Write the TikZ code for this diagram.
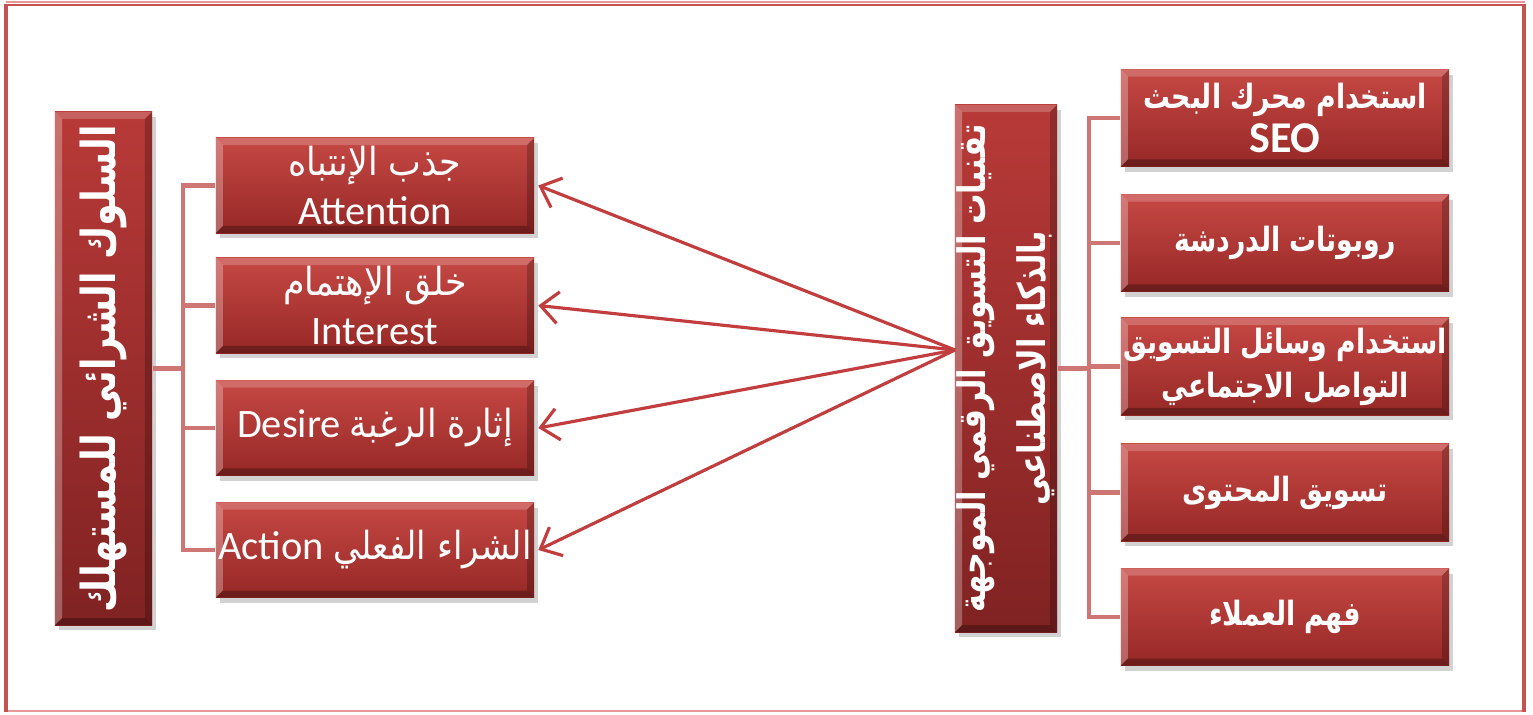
\documentclass[tikz,border=0pt]{standalone}
\usepackage{fontspec}
\usepackage{graphicx}
\setmainfont{Carlito}
\newfontfamily\arabicfont[Script=Arabic]{DejaVu Sans}
\newfontfamily\latinfont{Carlito}
\TeXXeTstate=1
\usetikzlibrary{arrows.meta,shadows}
\definecolor{boxtop}{RGB}{198,72,68}
\definecolor{boxbot}{RGB}{150,40,38}
\definecolor{vtop}{RGB}{184,58,56}
\definecolor{vbot}{RGB}{128,34,34}
\definecolor{treecol}{RGB}{205,118,115}
\definecolor{arrcol}{RGB}{194,62,62}
\definecolor{framedark}{RGB}{196,82,80}
\definecolor{framelight}{RGB}{230,150,148}
\newcommand\arline[2][0.8]{\scalebox{#1}[1]{\beginR #2\endR}}
\newcommand\mybevel{%
  \fill[white,opacity=0.20] (path picture bounding box.north west) -- (path picture bounding box.north east)
    -- ([shift={(-2pt,-2pt)}]path picture bounding box.north east) -- ([shift={(2pt,-2pt)}]path picture bounding box.north west) -- cycle;
  \fill[white,opacity=0.28] (path picture bounding box.north west) -- ([shift={(2pt,-2pt)}]path picture bounding box.north west)
    -- ([shift={(2pt,2pt)}]path picture bounding box.south west) -- (path picture bounding box.south west) -- cycle;
  \fill[black,opacity=0.22] (path picture bounding box.north east) -- ([shift={(-2pt,-2pt)}]path picture bounding box.north east)
    -- ([shift={(-2pt,2pt)}]path picture bounding box.south east) -- (path picture bounding box.south east) -- cycle;
  \fill[black,opacity=0.28] (path picture bounding box.south west) -- ([shift={(2pt,2pt)}]path picture bounding box.south west)
    -- ([shift={(-2pt,2pt)}]path picture bounding box.south east) -- (path picture bounding box.south east) -- cycle;
}
\tikzset{
  redbox/.style={shade, top color=boxtop, bottom color=boxbot, text=white, inner sep=0pt, align=center,
    drop shadow={shadow xshift=1.2pt, shadow yshift=-1.5pt, opacity=0.35}, path picture={\mybevel}},
  abox/.style={redbox, minimum width=3.18cm, minimum height=0.95cm, font=\latinfont\fontsize{11.5}{14}\selectfont},
  bbox/.style={redbox, minimum width=3.28cm, minimum height=0.97cm, font=\arabicfont\bfseries\fontsize{9.5}{12.5}\selectfont},
  vbox/.style={redbox, top color=vtop, bottom color=vbot},
  vtext/.style={rotate=90, text=white, align=center, inner sep=0pt},
  tree/.style={treecol, line width=1.15pt},
  arr/.style={arrcol, line width=0.9pt, -{Straight Barb[length=5pt,width=9pt,line width=0.9pt]}},
}
\begin{document}
\begin{tikzpicture}[x=0.01cm,y=-0.01cm]
\useasboundingbox (0,0) rectangle (1533,715);
\fill[white] (0,0) rectangle (1533,715);
% frame
\draw[framelight, line width=0.5pt] (6,2) -- (1525,2);
\draw[framedark, line width=0.7pt] (6,5) -- (1525,5);
\draw[framelight, line width=0.6pt] (6,711) -- (1525,711);
\draw[framedark, line width=1.1pt] (6,4) -- (6,712);
\draw[framedark, line width=1.1pt] (1524,4) -- (1524,712);

% left vertical box
\node[vbox, minimum width=0.97cm, minimum height=5.13cm] (L) at (103.5,368.5) {};
\node[vtext, font=\arabicfont\bfseries\fontsize{13.3}{16}\selectfont] (Lt) at (L.center) {\arline[0.78]{السلوك الشرائي للمستهلك}};

% left boxes
\node[abox] (a1) at (375,185.5) {{\arabicfont\fontsize{11}{14}\selectfont\arline[0.9]{جذب الإنتباه}}\\Attention};
\node[abox] (a2) at (375,305.5) {{\arabicfont\fontsize{11}{14}\selectfont\arline[0.9]{خلق الإهتمام}}\\Interest};
\node[abox] (a3) at (375,428) {Desire {\arabicfont\fontsize{11}{14}\selectfont\arline[0.9]{إثارة الرغبة}}};
\node[abox] (a4) at (375,550) {Action {\arabicfont\fontsize{11}{14}\selectfont\arline[0.88]{الشراء الفعلي}}};

% right vertical box
\node[vbox, minimum width=1.02cm, minimum height=5.27cm] (R) at (1006,368.5) {};
\node[vtext, font=\arabicfont\bfseries\fontsize{10.8}{17}\selectfont] (Rt) at (R.center) {\arline[0.8]{تقنيات التسويق الرقمي الموجهة}\\\arline[0.8]{بالذكاء الاصطناعي}};

% right boxes
\node[bbox] (b1) at (1285,118) {\arline{استخدام محرك البحث}\\{\latinfont\bfseries\fontsize{12.5}{13}\selectfont SEO}};
\node[bbox] (b2) at (1285,243) {\arline{روبوتات الدردشة}};
\node[bbox] (b3) at (1285,366.5) {\arline{استخدام وسائل التسويق}\\\arline{التواصل الاجتماعي}};
\node[bbox] (b4) at (1285,492.5) {\arline{تسويق المحتوى}};
\node[bbox] (b5) at (1285,617) {\arline{فهم العملاء}};

% left tree
\coordinate (lt) at (183,368.5);
\draw[tree] (L.east) -- (lt);
\draw[tree] (a1.west) -- (a1.west -| lt) -- (a4.west -| lt) -- (a4.west);
\draw[tree] (a2.west) -- (a2.west -| lt);
\draw[tree] (a3.west) -- (a3.west -| lt);

% right tree
\coordinate (rt) at (1089,368.5);
\draw[tree] (R.east) -- (rt);
\draw[tree] (b1.west) -- (b1.west -| rt) -- (b5.west -| rt) -- (b5.west);
\draw[tree] (b2.west) -- (b2.west -| rt);
\draw[tree] (b3.west) -- (b3.west -| rt);
\draw[tree] (b4.west) -- (b4.west -| rt);

% arrows
\coordinate (hub) at (955,350);
\draw[arr] (hub) -- ([xshift=1pt]a1.east);
\draw[arr] (hub) -- ([xshift=1pt]a2.east);
\draw[arr] (hub) -- ([xshift=1pt]a3.east);
\draw[arr] (hub) -- ([xshift=1pt]a4.east);
\end{tikzpicture}
\end{document}
